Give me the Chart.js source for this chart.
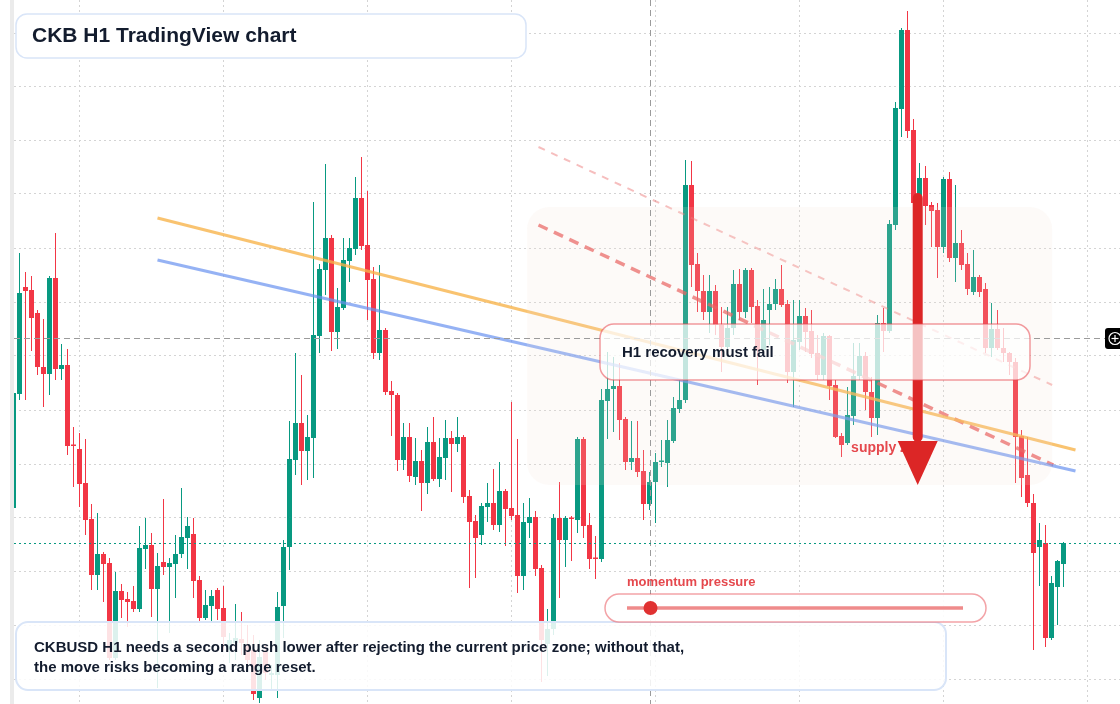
<!DOCTYPE html>
<html>
<head>
<meta charset="utf-8">
<title>CKB H1 TradingView chart</title>
<script src="https://cdn.jsdelivr.net/npm/chart.js@4.4.1/dist/chart.umd.min.js"></script>
<style>
  html, body { margin: 0; padding: 0; background: #fff; }
  #wrap { width: 1120px; height: 704px; }
</style>
</head>
<body>
<div id="wrap"><canvas id="chart" width="1120" height="704"></canvas></div>
<script>
// CKBUSD hourly candles, prices in micro-USD (5157 = 0.005157)
const opens = [
  5192, 5306, 5413, 5410, 5387, 5333, 5326, 5422, 5331, 5335,
  5255, 5251, 5217, 5181, 5125, 5146, 5137, 5042, 5109, 5101,
  5099, 5091, 5151, 5155, 5111, 5138, 5133, 5136, 5146, 5162,
  5166, 5120, 5082, 5094, 5110, 5092, 5050, 5057, 5061, 5055,
  5050, 5002, 5048, 5025, 5025, 5094, 5153, 5240, 5277, 5249,
  5262, 5364, 5430, 5462, 5368, 5392, 5439, 5451, 5502, 5455,
  5421, 5347, 5370, 5309, 5305, 5240, 5263, 5223, 5239, 5217,
  5258, 5221, 5242, 5262, 5256, 5263, 5204, 5179, 5165, 5193,
  5197, 5175, 5209, 5192, 5185, 5124, 5177, 5183, 5132, 5056,
  5071, 5182, 5160, 5182, 5180, 5261, 5175, 5142, 5141, 5299,
  5311, 5314, 5281, 5238, 5242, 5229, 5196, 5218, 5238, 5237,
  5259, 5291, 5300, 5515, 5436, 5409, 5388, 5409, 5375, 5353,
  5372, 5416, 5388, 5430, 5394, 5350, 5390, 5396, 5411, 5396,
  5328, 5358, 5384, 5369, 5347, 5325, 5364, 5315, 5264, 5257,
  5284, 5324, 5344, 5308, 5282, 5377, 5369, 5475, 5591, 5670,
  5570, 5497, 5522, 5495, 5490, 5453, 5521, 5442, 5457, 5436,
  5408, 5423, 5411, 5352, 5371, 5352, 5347, 5338, 5264, 5225,
  5197, 5153, 5157, 5062, 5113, 5136
];
const highs = [
  5310, 5447, 5428, 5424, 5390, 5381, 5424, 5467, 5356, 5351,
  5273, 5267, 5261, 5196, 5187, 5148, 5142, 5128, 5116, 5108,
  5114, 5174, 5182, 5167, 5147, 5201, 5142, 5165, 5212, 5183,
  5182, 5124, 5110, 5110, 5112, 5114, 5067, 5096, 5088, 5075,
  5065, 5060, 5055, 5035, 5108, 5160, 5279, 5347, 5325, 5285,
  5498, 5436, 5536, 5465, 5412, 5462, 5462, 5523, 5543, 5509,
  5433, 5435, 5372, 5319, 5307, 5277, 5277, 5262, 5250, 5273,
  5283, 5262, 5280, 5269, 5283, 5265, 5210, 5185, 5197, 5217,
  5231, 5238, 5211, 5298, 5261, 5197, 5202, 5189, 5135, 5091,
  5186, 5218, 5184, 5184, 5263, 5263, 5187, 5164, 5311, 5348,
  5343, 5337, 5283, 5279, 5279, 5250, 5228, 5247, 5260, 5280,
  5303, 5320, 5540, 5539, 5447, 5425, 5425, 5415, 5393, 5393,
  5430, 5431, 5432, 5432, 5400, 5411, 5413, 5421, 5435, 5400,
  5400, 5400, 5392, 5390, 5365, 5367, 5365, 5320, 5267, 5313,
  5357, 5357, 5348, 5323, 5385, 5392, 5480, 5598, 5672, 5689,
  5581, 5537, 5534, 5498, 5497, 5523, 5528, 5515, 5470, 5447,
  5450, 5425, 5417, 5397, 5390, 5372, 5348, 5342, 5270, 5263,
  5206, 5177, 5175, 5124, 5140, 5158
];
const lows = [
  5188, 5300, 5300, 5349, 5325, 5293, 5305, 5320, 5320, 5245,
  5213, 5193, 5165, 5110, 5110, 5098, 5040, 5040, 5082, 5073,
  5088, 5088, 5131, 5083, 5012, 5125, 5067, 5102, 5142, 5131,
  5102, 5078, 5080, 5078, 5080, 5050, 5037, 5040, 5045, 5030,
  5000, 4997, 5020, 5010, 5002, 5062, 5130, 5225, 5215, 5220,
  5222, 5347, 5405, 5349, 5351, 5390, 5418, 5445, 5450, 5380,
  5341, 5340, 5305, 5264, 5229, 5230, 5218, 5215, 5189, 5206,
  5219, 5213, 5220, 5208, 5248, 5197, 5112, 5122, 5155, 5178,
  5170, 5168, 5154, 5180, 5107, 5110, 5162, 5124, 5018, 5024,
  5065, 5102, 5133, 5139, 5167, 5162, 5131, 5121, 5138, 5261,
  5268, 5260, 5230, 5230, 5223, 5180, 5190, 5177, 5233, 5213,
  5257, 5287, 5297, 5413, 5388, 5380, 5367, 5365, 5328, 5345,
  5365, 5380, 5382, 5377, 5315, 5345, 5355, 5390, 5393, 5317,
  5293, 5350, 5348, 5342, 5320, 5320, 5300, 5262, 5243, 5255,
  5275, 5320, 5290, 5263, 5265, 5348, 5367, 5470, 5563, 5562,
  5480, 5490, 5475, 5453, 5422, 5447, 5438, 5418, 5430, 5405,
  5405, 5403, 5347, 5343, 5350, 5338, 5325, 5217, 5203, 5193,
  5050, 5114, 5053, 5060, 5075, 5113
];
const closes = [
  5307, 5407, 5409, 5382, 5333, 5326, 5422, 5331, 5335, 5254,
  5254, 5216, 5180, 5125, 5146, 5136, 5042, 5109, 5100, 5098,
  5091, 5152, 5155, 5111, 5134, 5133, 5137, 5146, 5163, 5174,
  5119, 5082, 5095, 5104, 5091, 5063, 5060, 5062, 5057, 5040,
  5006, 5043, 5027, 5027, 5093, 5153, 5241, 5277, 5249, 5263,
  5365, 5431, 5462, 5368, 5393, 5440, 5452, 5502, 5454, 5420,
  5347, 5370, 5308, 5305, 5240, 5263, 5224, 5239, 5217, 5258,
  5221, 5243, 5262, 5256, 5263, 5203, 5178, 5162, 5194, 5197,
  5175, 5209, 5191, 5184, 5124, 5178, 5183, 5131, 5060, 5071,
  5182, 5160, 5182, 5181, 5261, 5174, 5141, 5141, 5300, 5311,
  5314, 5280, 5238, 5242, 5228, 5196, 5218, 5238, 5239, 5260,
  5292, 5300, 5515, 5435, 5409, 5388, 5409, 5375, 5353, 5372,
  5416, 5388, 5430, 5393, 5350, 5380, 5396, 5411, 5395, 5328,
  5360, 5384, 5368, 5346, 5325, 5364, 5314, 5263, 5255, 5285,
  5324, 5344, 5308, 5282, 5377, 5369, 5476, 5592, 5670, 5569,
  5497, 5522, 5494, 5489, 5453, 5521, 5442, 5457, 5435, 5411,
  5423, 5408, 5352, 5371, 5352, 5347, 5338, 5263, 5222, 5197,
  5147, 5160, 5062, 5117, 5139, 5157
];

// visible window: bar index on x, price on y
const xRange = [1 / 12, 1 / 12 + 1106 / 6];
const priceRange = [4996, 5700];
const dayTicks = [11, 35, 59, 83, 107, 131, 155, 179];     // one grid line every 24 bars
const priceTicks = [5667, 5613, 5560, 5506, 5452, 5398, 5344, 5290, 5236, 5183, 5129, 5075, 5021];

// drawings (bar index, price)
const resistanceLine = [{ x: 24, y: 5482 }, { x: 177, y: 5250 }];
const supportLine = [{ x: 24, y: 5440 }, { x: 177, y: 5229 }];
const channelLow = [{ x: 87.5, y: 5475 }, { x: 173.3, y: 5235 }];
const channelHigh = [{ x: 87.5, y: 5553 }, { x: 173.1, y: 5315 }];
const supplyZone = { from: 85.6, to: 173.1, top: 5493, bottom: 5215 };
const arrowMove = { x: 150.7, from: 5507, to: 5215 };
const crosshair = { index: 106.1, price: 5362 };
const supplyLabel = { x: 139.6, y: 5252 };
const momentumPressure = 0.07;

const titleText = 'CKB H1 TradingView chart';
const calloutText = 'H1 recovery must fail';
const noteLines = [
  'CKBUSD H1 needs a second push lower after rejecting the current price zone; without that,',
  'the move risks becoming a range reset.'
];

const UP = '#089981';
const DOWN = '#f23645';
const FONT = '"Liberation Sans", Arial, Helvetica, sans-serif';
const INK = '#131c2e';

const bars = opens.map((_, i) => i);
const candleColor = c => closes[c.dataIndex] >= opens[c.dataIndex] ? UP : DOWN;

function roundRect(ctx, x, y, w, h, r) {
    ctx.beginPath();
    ctx.moveTo(x + r, y);
    ctx.arcTo(x + w, y, x + w, y + h, r);
    ctx.arcTo(x + w, y + h, x, y + h, r);
    ctx.arcTo(x, y + h, x, y, r);
    ctx.arcTo(x, y, x + w, y, r);
    ctx.closePath();
}

function strokeLine(ctx, x0, y0, x1, y1) {
    ctx.beginPath();
    ctx.moveTo(x0, y0);
    ctx.lineTo(x1, y1);
    ctx.stroke();
}

const overlay = {
    id: 'overlay',
    afterDatasetsDraw(chart) {
        const { ctx, chartArea: a } = chart;
        const x = chart.scales.x, y = chart.scales.y;
        ctx.save();

        // shaded supply zone
        const zx0 = x.getPixelForValue(supplyZone.from), zx1 = x.getPixelForValue(supplyZone.to);
        const zy0 = y.getPixelForValue(supplyZone.top), zy1 = y.getPixelForValue(supplyZone.bottom);
        roundRect(ctx, zx0, zy0, zx1 - zx0, zy1 - zy0, 22);
        ctx.fillStyle = 'rgba(240, 226, 212, 0.16)';
        ctx.fill();

        // crosshair
        ctx.strokeStyle = '#9b9b9b';
        ctx.lineWidth = 1;
        ctx.setLineDash([6, 4]);
        const cx = Math.round(x.getPixelForValue(crosshair.index)) + 0.5;
        const cy = Math.round(y.getPixelForValue(crosshair.price)) + 0.5;
        strokeLine(ctx, cx, a.top, cx, a.bottom);
        strokeLine(ctx, a.left, cy, a.right - 15, cy);

        // last price line
        const py = Math.round(y.getPixelForValue(closes[closes.length - 1])) + 0.5;
        ctx.strokeStyle = UP;
        ctx.setLineDash([2, 3]);
        strokeLine(ctx, a.left, py, a.right, py);
        ctx.setLineDash([]);

        // supply zone label
        ctx.font = 'bold 14px ' + FONT;
        ctx.textBaseline = 'middle';
        ctx.fillStyle = '#e5484d';
        ctx.fillText('supply zone', x.getPixelForValue(supplyLabel.x), y.getPixelForValue(supplyLabel.y));

        // big down arrow
        const ax = x.getPixelForValue(arrowMove.x);
        const ay0 = y.getPixelForValue(arrowMove.from);
        const ay1 = y.getPixelForValue(arrowMove.to);
        ctx.fillStyle = '#dc2626';
        roundRect(ctx, ax - 5, ay0, 10, ay1 - 44 - ay0 + 1, 5);
        ctx.fill();
        ctx.beginPath();
        ctx.moveTo(ax - 20, ay1 - 44);
        ctx.lineTo(ax + 20, ay1 - 44);
        ctx.lineTo(ax, ay1);
        ctx.closePath();
        ctx.fill();

        // callout box
        roundRect(ctx, 600, 324, 430, 56, 14);
        ctx.fillStyle = 'rgba(255, 255, 255, 0.72)';
        ctx.fill();
        ctx.strokeStyle = 'rgba(232, 72, 80, 0.55)';
        ctx.lineWidth = 1.5;
        ctx.stroke();
        ctx.font = 'bold 15px ' + FONT;
        ctx.fillStyle = INK;
        ctx.fillText(calloutText, 622, 353);

        // bottom note
        roundRect(ctx, 16, 622, 930, 68, 12);
        ctx.fillStyle = 'rgba(255, 255, 255, 0.86)';
        ctx.fill();
        ctx.strokeStyle = '#d9e5f8';
        ctx.lineWidth = 2;
        ctx.stroke();
        ctx.fillStyle = INK;
        noteLines.forEach((t, k) => ctx.fillText(t, 34, 648 + k * 20));

        // momentum pill
        ctx.font = 'bold 13px ' + FONT;
        ctx.fillStyle = '#e5484d';
        ctx.fillText('momentum pressure', 627, 582);
        roundRect(ctx, 605, 594, 381, 28, 14);
        ctx.fillStyle = 'rgba(255, 255, 255, 0.9)';
        ctx.fill();
        ctx.strokeStyle = 'rgba(232, 72, 80, 0.5)';
        ctx.lineWidth = 1.5;
        ctx.stroke();
        ctx.strokeStyle = '#ef8b8b';
        ctx.lineWidth = 3.5;
        strokeLine(ctx, 627, 608, 963, 608);
        ctx.fillStyle = '#e03131';
        ctx.beginPath();
        ctx.arc(627 + momentumPressure * 336, 608, 7, 0, Math.PI * 2);
        ctx.fill();

        // title
        roundRect(ctx, 16, 14, 510, 44, 11);
        ctx.fillStyle = '#ffffff';
        ctx.fill();
        ctx.strokeStyle = '#d9e5f8';
        ctx.lineWidth = 1.5;
        ctx.stroke();
        ctx.font = 'bold 21px ' + FONT;
        ctx.fillStyle = INK;
        ctx.fillText(titleText, 32, 36);

        // left edge and crosshair button
        ctx.fillStyle = '#ebebeb';
        ctx.fillRect(10, 0, 4, chart.height);
        ctx.fillStyle = '#000000';
        roundRect(ctx, 1105, 328, 20, 21, 3);
        ctx.fill();
        ctx.strokeStyle = '#ffffff';
        ctx.lineWidth = 1.2;
        ctx.beginPath();
        ctx.arc(1115, 338.5, 6, 0, Math.PI * 2);
        ctx.stroke();
        strokeLine(ctx, 1111.5, 338.5, 1118.5, 338.5);
        strokeLine(ctx, 1115, 335, 1115, 342);

        ctx.restore();
    }
};

const lineStyle = (data, color, width, dash) => ({
    type: 'line',
    data: data,
    borderColor: color,
    borderWidth: width,
    borderDash: dash,
    pointRadius: 0,
    tension: 0,
    fill: false,
    order: 1
});

const axisBase = {
    type: 'linear',
    offset: false,
    ticks: { display: false },
    grid: { color: '#d4d4d4', lineWidth: 1, drawTicks: false, offset: false },
    border: { display: false, dash: [2, 3] }
};

new Chart(document.getElementById('chart').getContext('2d'), {
    type: 'bar',
    data: {
        datasets: [
            lineStyle(resistanceLine, 'rgba(247, 178, 72, 0.78)', 3, []),
            lineStyle(supportLine, 'rgba(104, 146, 240, 0.7)', 3, []),
            lineStyle(channelLow, 'rgba(232, 80, 80, 0.72)', 3.5, [10, 7]),
            lineStyle(channelHigh, 'rgba(236, 110, 110, 0.45)', 2, [7, 7]),
            {
                label: 'bodies',
                data: bars.map(i => ({ x: i, y: [opens[i], closes[i]] })),
                backgroundColor: candleColor,
                barThickness: 5,
                minBarLength: 1.5,
                grouped: false,
                inflateAmount: 0,
                order: 2
            },
            {
                label: 'wicks',
                data: bars.map(i => ({ x: i, y: [lows[i], highs[i]] })),
                backgroundColor: candleColor,
                barThickness: 1,
                grouped: false,
                inflateAmount: 0,
                order: 3
            }
        ]
    },
    options: {
        responsive: false,
        animation: false,
        devicePixelRatio: 1,
        layout: { padding: { left: 14, right: 0, top: 0, bottom: 0 } },
        plugins: { legend: { display: false }, tooltip: { enabled: false } },
        scales: {
            x: Object.assign({}, axisBase, {
                min: xRange[0], max: xRange[1],
                afterBuildTicks: s => { s.ticks = dayTicks.map(v => ({ value: v })); }
            }),
            y: Object.assign({}, axisBase, {
                min: priceRange[0], max: priceRange[1],
                afterBuildTicks: s => { s.ticks = priceTicks.map(v => ({ value: v })); }
            })
        }
    },
    plugins: [overlay]
});
</script>
</body>
</html>
